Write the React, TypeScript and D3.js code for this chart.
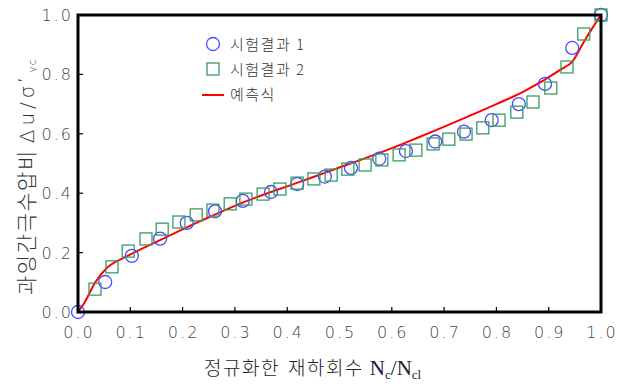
import React from 'react';
import * as d3 from 'd3';

// 시험결과 1 (circles)
const test1X = [0, 0.052, 0.103, 0.157, 0.208, 0.262, 0.315, 0.369, 0.419, 0.472, 0.522, 0.576, 0.627, 0.683, 0.738, 0.791, 0.843, 0.893, 0.945, 1.0];
const test1Y = [0, 0.101, 0.189, 0.247, 0.300, 0.339, 0.374, 0.404, 0.431, 0.456, 0.485, 0.516, 0.542, 0.574, 0.607, 0.646, 0.700, 0.768, 0.889, 1.0];

// 시험결과 2 (squares)
const test2X = [0.0325, 0.065, 0.096, 0.130, 0.161, 0.193, 0.226, 0.258, 0.291, 0.321, 0.354, 0.386, 0.419, 0.451, 0.484, 0.516, 0.549, 0.581, 0.614, 0.646, 0.679, 0.709, 0.742, 0.774, 0.805, 0.839, 0.870, 0.904, 0.935, 0.967, 1.0];
const test2Y = [0.077, 0.152, 0.205, 0.246, 0.279, 0.303, 0.327, 0.343, 0.364, 0.380, 0.397, 0.414, 0.434, 0.448, 0.461, 0.481, 0.495, 0.512, 0.529, 0.545, 0.566, 0.582, 0.599, 0.620, 0.646, 0.673, 0.707, 0.754, 0.825, 0.936, 1.0];

// 예측식 (prediction curve)
const predX = [0, 0.012, 0.033, 0.055, 0.093, 0.157, 0.239, 0.31, 0.424, 0.482, 0.615, 0.654, 0.744, 0.8, 0.851, 0.922, 0.946, 0.966, 0.985, 1.0];
const predY = [0, 0.03, 0.1, 0.148, 0.187, 0.242, 0.31, 0.365, 0.438, 0.475, 0.562, 0.59, 0.657, 0.7, 0.741, 0.815, 0.845, 0.906, 0.96, 1.0];

const xTicks = [0, 0.1, 0.2, 0.3, 0.4, 0.5, 0.6, 0.7, 0.8, 0.9, 1.0];
const yTicks = [0, 0.2, 0.4, 0.6, 0.8, 1.0];

const legendLabels = ['시험결과 1', '시험결과 2', '예측식'];

const W = 630, H = 387;
const margin = { left: 78, right: 29, top: 15, bottom: 75 };

export default function App() {
  const x = d3.scaleLinear().domain([0, 1]).range([margin.left, W - margin.right]);
  const y = d3.scaleLinear().domain([0, 1]).range([H - margin.bottom, margin.top]);

  const line = d3.line<number>()
    .x((d, i) => x(predX[i]))
    .y((d) => y(d))
    .curve(d3.curveMonotoneX);

  const tickFont = '"DejaVu Sans", sans-serif';
  const korFont = '"Noto Sans CJK KR", sans-serif';
  const serif = '"Liberation Serif", serif';

  return (
    <svg width={W} height={H} style={{ position: 'absolute', left: 0, top: 0, background: '#fff' }}>
      {/* prediction line */}
      <path d={line(predY) || ''} fill="none" stroke="#ff0000" strokeWidth={2} />

      {/* test 1 circles */}
      {test1X.map((v, i) => (
        <circle key={'c' + i} cx={x(v)} cy={y(test1Y[i])} r={6.5} fill="none" stroke="#4a4aff" strokeWidth={1.3} />
      ))}

      {/* test 2 squares */}
      {test2X.map((v, i) => (
        <rect key={'s' + i} x={x(v) - 6} y={y(test2Y[i]) - 6} width={12} height={12} fill="none" stroke="#3a9a66" strokeWidth={1.3} />
      ))}

      {/* frame */}
      <rect x={x(0)} y={y(1)} width={x(1) - x(0)} height={y(0) - y(1)} fill="none" stroke="#000" strokeWidth={3} />

      {/* ticks */}
      {xTicks.map((t) => (
        <g key={'xt' + t}>
          <line x1={x(t)} x2={x(t)} y1={y(0)} y2={y(0) - 5} stroke="#000" strokeWidth={1.2} />
          <text x={x(t) + 1} y={y(0) + 26} textAnchor="middle" fontFamily={tickFont} fontSize={16} fontWeight={300} letterSpacing={2} fill="#444">
            {d3.format('.1f')(t)}
          </text>
        </g>
      ))}
      {yTicks.map((t) => (
        <g key={'yt' + t}>
          <line x1={x(0)} x2={x(0) + 5} y1={y(t)} y2={y(t)} stroke="#000" strokeWidth={1.2} />
          <text x={x(0) - 5} y={y(t) + 6} textAnchor="end" fontFamily={tickFont} fontSize={16} fontWeight={300} letterSpacing={2} fill="#444">
            {d3.format('.1f')(t)}
          </text>
        </g>
      ))}

      {/* legend */}
      <circle cx={213} cy={44} r={6.5} fill="none" stroke="#4a4aff" strokeWidth={1.3} />
      <text x={230} y={50} fontFamily={korFont} fontSize={15} fontWeight={300} letterSpacing={1.5} fill="#333">{legendLabels[0]}</text>
      <rect x={207} y={63} width={12} height={12} fill="none" stroke="#3a9a66" strokeWidth={1.3} />
      <text x={230} y={75} fontFamily={korFont} fontSize={15} fontWeight={300} letterSpacing={1.5} fill="#333">{legendLabels[1]}</text>
      <line x1={202} x2={224} y1={95} y2={95} stroke="#ff0000" strokeWidth={2} />
      <text x={230} y={100} fontFamily={korFont} fontSize={15} fontWeight={300} letterSpacing={1.5} fill="#333">{legendLabels[2]}</text>

      {/* x axis title */}
      <text x={204} y={375} fontFamily={korFont} fontSize={19} fontWeight={300} fill="#222" letterSpacing={1.5}>
        <tspan>정규화한</tspan>
        <tspan dx={8}>재하회수</tspan>
        <tspan fontFamily={serif} fontSize={21} dx={6} letterSpacing={0} fill="#2a1040">N</tspan>
        <tspan fontFamily={serif} fontSize={13} dy={4} letterSpacing={0} fill="#2a1040">c</tspan>
        <tspan fontFamily={serif} fontSize={21} dy={-4} letterSpacing={0} fill="#222">/N</tspan>
        <tspan fontFamily={serif} fontSize={13} dy={4} letterSpacing={0} fill="#222">cl</tspan>
      </text>

      {/* y axis title */}
      <text transform="translate(34,295) rotate(-90)" fontFamily={korFont} fontSize={21} fontWeight={300} fill="#333" letterSpacing={1.5}>
        <tspan>과잉간극수압비</tspan>
        <tspan fontFamily={tickFont} fontWeight={300} fontSize={20} dx={6} letterSpacing={4}>Δu/σ</tspan>
        <tspan fontFamily={tickFont} fontWeight={300} fontSize={14} dy={-6} letterSpacing={0}>′</tspan>
        <tspan fontFamily={tickFont} fontWeight={300} fontSize={11} dx={6} dy={8} letterSpacing={1}>vc</tspan>
      </text>
    </svg>
  );
}
